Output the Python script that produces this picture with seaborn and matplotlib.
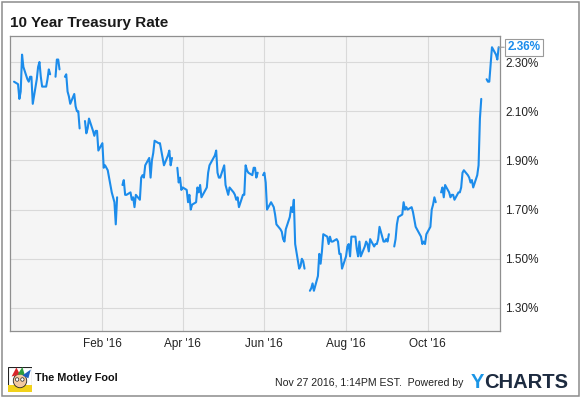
import numpy as np
import pandas as pd
import seaborn as sns
import matplotlib.pyplot as plt
from matplotlib.patches import Rectangle, Circle, Polygon

# 10 year treasury rate (%), one trading day per entry; None = bond market holiday
nov15 = [2.22, 2.21]
dec15 = [2.15, 2.18, 2.33, 2.28,
         2.23, 2.22, 2.24, 2.24, 2.13,
         2.23, 2.28, 2.30, 2.24, 2.20,
         2.20, 2.23, 2.27, 2.25, None,
         2.24, 2.31, 2.31, 2.27]
jan16 = [None,
         2.24, 2.25, 2.18, 2.16, 2.13,
         2.17, 2.12, 2.10, 2.10, 2.03,
         None, 2.06, 2.01, 2.03, 2.07,
         2.02, 2.00, 2.02, 2.02, 1.94]
feb16 = [1.97, 1.87, 1.88, 1.87, 1.86,
         1.77, 1.75, 1.73, 1.64, 1.75,
         None, 1.80, 1.82, 1.76, 1.76,
         1.77, 1.74, 1.75, 1.71, 1.76,
         1.74]
mar16 = [1.83, 1.84, 1.83, 1.88,
         1.91, 1.83, 1.90, 1.93, 1.98,
         1.97, 1.97, 1.94, 1.91, 1.88,
         1.92, 1.94, 1.88, 1.91, None,
         1.87, 1.81, 1.83, 1.78]
apr16 = [1.79,
         1.78, 1.73, 1.76, 1.70, 1.72,
         1.73, 1.79, 1.77, 1.80, 1.75,
         1.78, 1.79, 1.85, 1.88, 1.89,
         1.92, 1.94, 1.85, 1.83, 1.83]
may16 = [1.88, 1.80, 1.78, 1.76, 1.79,
         1.77, 1.76, 1.74, 1.75, 1.71,
         1.76, 1.76, 1.88, 1.86, 1.85,
         1.84, 1.87, 1.87, 1.83, 1.85,
         None, 1.84]
jun16 = [1.85, 1.81, 1.70,
         1.73, 1.72, 1.71, 1.68, 1.64,
         1.62, 1.61, 1.58, 1.57, 1.62,
         1.67, 1.71, 1.69, 1.74, 1.56,
         1.46, 1.47, 1.50, 1.49]
jul16 = [1.46,
         None, 1.37, 1.38, 1.40, 1.37,
         1.43, 1.52, 1.48, 1.53, 1.60,
         1.59, 1.56, 1.59, 1.57, 1.57,
         1.58, 1.57, 1.52, 1.52, 1.46]
aug16 = [1.51, 1.55, 1.56, 1.51, 1.59,
         1.59, 1.54, 1.51, 1.57, 1.51,
         1.55, 1.57, 1.56, 1.53, 1.58,
         1.55, 1.56, 1.56, 1.58, 1.63,
         1.57, 1.57, 1.58]
sep16 = [1.57, 1.60,
         None, 1.55, 1.58, 1.64, 1.67,
         1.68, 1.73, 1.70, 1.71, 1.70,
         1.71, 1.69, 1.66, 1.63, 1.62,
         1.59, 1.56, 1.57, 1.56, 1.60]
oct16 = [1.63, 1.70, 1.72, 1.75, 1.73,
         None, 1.77, 1.79, 1.75, 1.80,
         1.77, 1.75, 1.76, 1.76, 1.74,
         1.77, 1.77, 1.79, 1.85, 1.86,
         1.84]
nov16 = [1.83, 1.81, 1.82, 1.79,
         1.84, 1.88, 2.07, 2.15, None,
         2.23, 2.22, 2.22, 2.29, 2.36,
         2.33, 2.31, 2.36]

months = [nov15, dec15, jan16, feb16, mar16, apr16, may16,
          jun16, jul16, aug16, sep16, oct16, nov16]
rates = [v for m in months for v in m]
dates = pd.bdate_range("2015-11-27", "2016-11-23")

ytick_vals = [1.30, 1.50, 1.70, 1.90, 2.10, 2.30]
xtick_dates = ["2016-02-01", "2016-04-01", "2016-06-01", "2016-08-01", "2016-10-01"]
xtick_labels = ["Feb '16", "Apr '16", "Jun '16", "Aug '16", "Oct '16"]

df = pd.DataFrame({"date": dates, "rate": np.array(rates, dtype=float)})
# holidays break the line into separate pieces
df["segment"] = df["rate"].isna().cumsum()
df = df.dropna()

line_color = "#1c8ceb"

sns.set_style("white")
plt.rcParams["font.family"] = ["Liberation Sans", "DejaVu Sans"]

fig = plt.figure(figsize=(5.8, 3.97), dpi=100)
ax = fig.add_axes([10 / 580, 1 - 331 / 397, 490 / 580, 295 / 397])

sns.lineplot(data=df, x="date", y="rate", units="segment", estimator=None,
             color=line_color, lw=1.5, ax=ax)

ax.set_xlim(pd.Timestamp("2015-11-24"), pd.Timestamp("2016-11-24"))
ax.set_ylim(1.2065, 2.4057)
ax.set_facecolor("#f5f5f5")
ax.grid(True, color="#d9d9d9", lw=0.8)
ax.set_axisbelow(True)
for s in ax.spines.values():
    s.set_color("#8f8f8f")
    s.set_linewidth(0.9)

ax.yaxis.tick_right()
ax.set_yticks(ytick_vals, [f"{v:.2f}%" for v in ytick_vals])
ax.set_xticks(pd.to_datetime(xtick_dates), xtick_labels)
ax.tick_params(length=0, labelsize=8.5, colors="#222222")
ax.tick_params(axis="y", pad=3.6)
ax.tick_params(axis="x", pad=5)
ax.set_xlabel("")
ax.set_ylabel("")

# last value callout
last = df.iloc[-1]
ax.annotate(f"{last.rate:.2f}%", xy=(last.date, last.rate), xytext=(18, 0),
            textcoords="offset points", ha="center", va="center",
            color=line_color, fontsize=8.5, fontweight="bold",
            annotation_clip=False,
            bbox=dict(boxstyle="square,pad=0.22", fc="white", ec="#9a9a9a", lw=0.8),
            arrowprops=dict(arrowstyle="-", color="#9a9a9a", lw=0.8,
                            shrinkA=0, shrinkB=0))

fig.text(10 / 580, 1 - 23 / 397, "10 Year Treasury Rate", fontsize=11,
         fontweight="bold", color="#1a1a1a", va="center", ha="left")

# footer
fig.text(35 / 580, 1 - 378 / 397, "The Motley Fool", fontsize=7.8,
         fontweight="bold", color="#111111", va="center", ha="left")
fig.text(463 / 580, 1 - 383 / 397, "Nov 27 2016, 1:14PM EST.  Powered by",
         fontsize=7.6, color="#222222", va="center", ha="right")
charts = fig.text(568 / 580, 1 - 382 / 397, "CHARTS", fontsize=14.5,
                  fontweight="bold", color="#1d2b40", va="center", ha="right")
fig.canvas.draw()
bb = charts.get_window_extent()
fig.text(bb.x0 / fig.bbox.width, 1 - 382 / 397, "Y", fontsize=14.5,
         fontweight="bold", color="#1a95e6", va="center", ha="right")

# small jester logo
lg = fig.add_axes([8 / 580, 1 - 392 / 397, 24 / 580, 25 / 397])
lg.set_xlim(0, 1)
lg.set_ylim(0, 1)
lg.axis("off")
lg.add_patch(Rectangle((0, 0), 1, 1, fc="white", ec="#222222", lw=0.8))
lg.add_patch(Rectangle((0, 0), 1, 0.28, fc="#f2d21b", ec="none"))
lg.add_patch(Circle((0.5, 0.45), 0.28, fc="#f3c9a0", ec="#222222", lw=0.6))
lg.add_patch(Polygon([(0.15, 0.62), (0.35, 0.98), (0.5, 0.7)], fc="#d9262a", ec="none"))
lg.add_patch(Polygon([(0.4, 0.7), (0.6, 1.0), (0.7, 0.68)], fc="#2e9e3f", ec="none"))
lg.add_patch(Polygon([(0.6, 0.66), (0.95, 0.9), (0.85, 0.55)], fc="#1f5fbf", ec="none"))
lg.add_patch(Circle((0.38, 0.5), 0.07, fc="white", ec="#222222", lw=0.5))
lg.add_patch(Circle((0.6, 0.5), 0.07, fc="white", ec="#222222", lw=0.5))

# outer frame
fig.patches.append(Rectangle((1.5 / 580, 1.5 / 397), 577 / 580, 394 / 397,
                             transform=fig.transFigure, fill=False,
                             ec="#8c8c8c", lw=1.1))

fig.savefig("out.png", dpi=100)
